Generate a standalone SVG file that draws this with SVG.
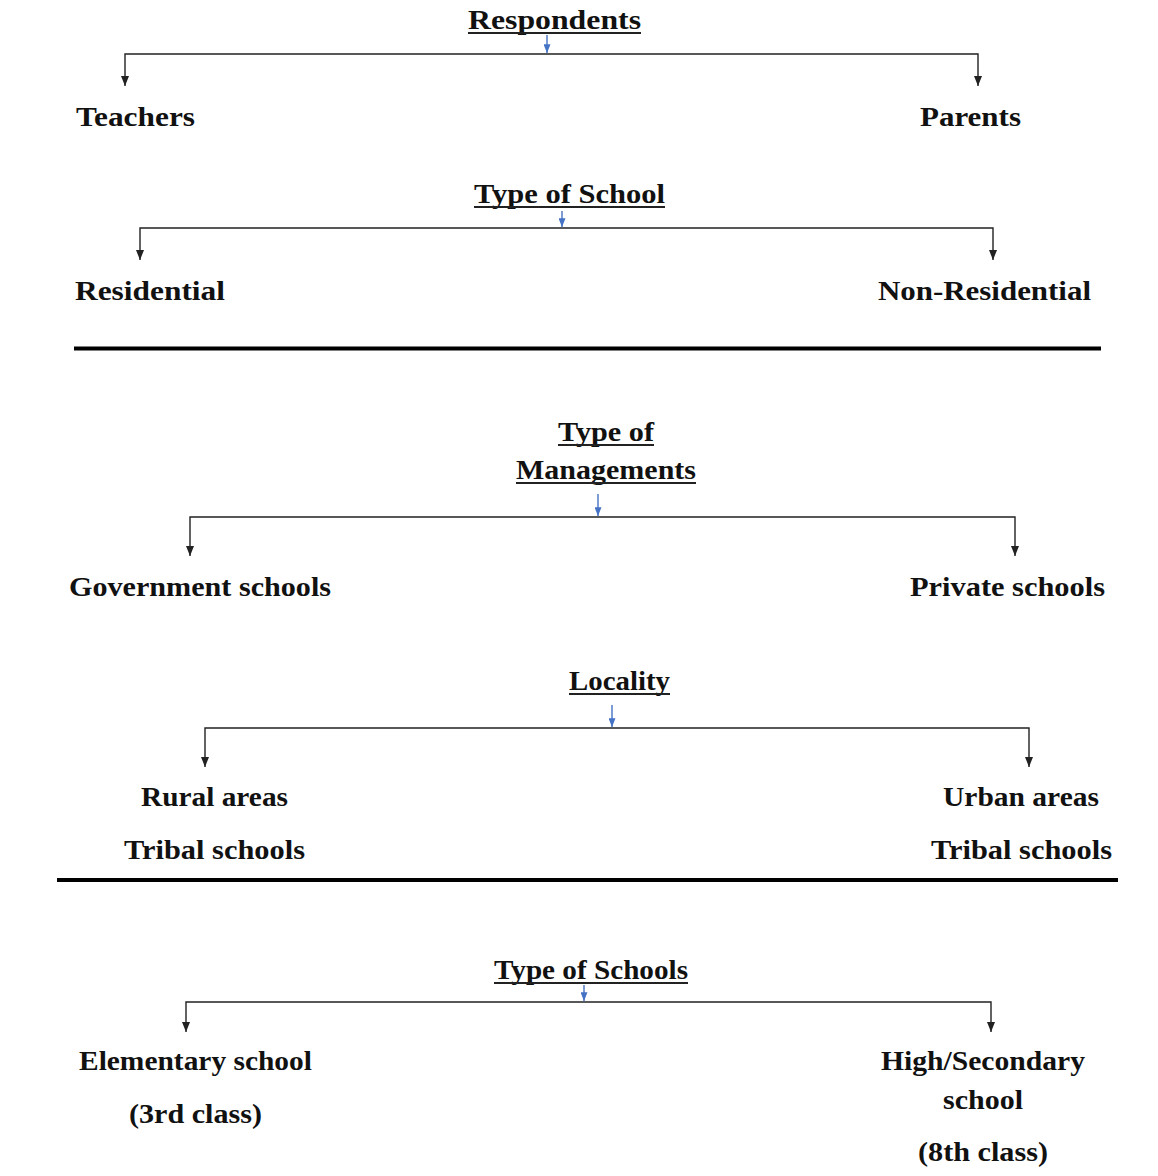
<svg xmlns="http://www.w3.org/2000/svg" width="1158" height="1176" viewBox="0 0 1158 1176">
<style>
text{font-family:"Liberation Serif","Times New Roman",serif;font-weight:bold;font-size:27px;fill:#111}
.ul{stroke:#222;stroke-width:2}
.con{fill:none;stroke:#222;stroke-width:1.4}
.blue{fill:none;stroke:#4472C4;stroke-width:1.4}
.rule{stroke:#000;stroke-width:4}
</style>
<defs>
<marker id="ak" viewBox="0 0 10 8" refX="10" refY="4" markerWidth="10" markerHeight="8" markerUnits="userSpaceOnUse" orient="auto">
<path d="M0,0 L10,4 L0,8 Z" fill="#222"/>
</marker>
<marker id="ab" viewBox="0 0 10 8" refX="10" refY="4" markerWidth="9" markerHeight="7" markerUnits="userSpaceOnUse" orient="auto">
<path d="M0,0 L10,4 L0,8 Z" fill="#4472C4"/>
</marker>
</defs>

<g id="connectors">
<path class="blue" d="M547,35 V53" marker-end="url(#ab)"/>
<path class="con" d="M547,54 H125 V86" marker-end="url(#ak)"/>
<path class="con" d="M547,54 H978 V86" marker-end="url(#ak)"/>

<path class="blue" d="M562,211 V227" marker-end="url(#ab)"/>
<path class="con" d="M562,228 H140 V260" marker-end="url(#ak)"/>
<path class="con" d="M562,228 H993 V260" marker-end="url(#ak)"/>

<path class="blue" d="M598,494 V516" marker-end="url(#ab)"/>
<path class="con" d="M598,517 H190 V556" marker-end="url(#ak)"/>
<path class="con" d="M598,517 H1015 V556" marker-end="url(#ak)"/>

<path class="blue" d="M612,705 V727" marker-end="url(#ab)"/>
<path class="con" d="M612,728 H205 V767" marker-end="url(#ak)"/>
<path class="con" d="M612,728 H1029 V767" marker-end="url(#ak)"/>

<path class="blue" d="M584,985 V1001" marker-end="url(#ab)"/>
<path class="con" d="M584,1002 H186 V1032" marker-end="url(#ak)"/>
<path class="con" d="M584,1002 H991 V1032" marker-end="url(#ak)"/>
</g>

<g id="rules">
<line class="rule" x1="74" y1="348.5" x2="1101" y2="348.5"/>
<line class="rule" x1="57" y1="880" x2="1118" y2="880"/>
</g>

<g id="respondents"><text x="468" y="29" textLength="173" lengthAdjust="spacingAndGlyphs">Respondents</text><line class="ul" x1="468" y1="33" x2="641" y2="33"/></g>
<g id="teachers"><text x="76" y="125.5" textLength="119" lengthAdjust="spacingAndGlyphs">Teachers</text></g>
<g id="parents"><text x="920" y="125.5" textLength="101" lengthAdjust="spacingAndGlyphs">Parents</text></g>

<g id="type-of-school"><text x="474" y="203" textLength="191" lengthAdjust="spacingAndGlyphs">Type of School</text><line class="ul" x1="474" y1="207" x2="665" y2="207"/></g>
<g id="residential"><text x="75" y="299.5" textLength="150" lengthAdjust="spacingAndGlyphs">Residential</text></g>
<g id="non-residential"><text x="878" y="299.5" textLength="213" lengthAdjust="spacingAndGlyphs">Non-Residential</text></g>

<g id="type-of-managements">
<text x="558" y="441" textLength="96" lengthAdjust="spacingAndGlyphs">Type of</text><line class="ul" x1="558" y1="445" x2="654" y2="445"/>
<text x="516" y="479" textLength="180" lengthAdjust="spacingAndGlyphs">Managements</text><line class="ul" x1="516" y1="483" x2="696" y2="483"/>
</g>
<g id="government-schools"><text x="69" y="595.5" textLength="262" lengthAdjust="spacingAndGlyphs">Government schools</text></g>
<g id="private-schools"><text x="910" y="595.5" textLength="195" lengthAdjust="spacingAndGlyphs">Private schools</text></g>

<g id="locality"><text x="569" y="690" textLength="101" lengthAdjust="spacingAndGlyphs">Locality</text><line class="ul" x1="569" y1="694" x2="670" y2="694"/></g>
<g id="rural"><text x="141" y="805.5" textLength="147" lengthAdjust="spacingAndGlyphs">Rural areas</text><text x="124" y="858.5" textLength="181" lengthAdjust="spacingAndGlyphs">Tribal schools</text></g>
<g id="urban"><text x="943" y="805.5" textLength="156" lengthAdjust="spacingAndGlyphs">Urban areas</text><text x="931" y="858.5" textLength="181" lengthAdjust="spacingAndGlyphs">Tribal schools</text></g>

<g id="type-of-schools"><text x="494" y="979" textLength="194" lengthAdjust="spacingAndGlyphs">Type of Schools</text><line class="ul" x1="494" y1="983" x2="688" y2="983"/></g>
<g id="elementary"><text x="79" y="1069.5" textLength="233" lengthAdjust="spacingAndGlyphs">Elementary school</text><text x="129" y="1122.5" textLength="133" lengthAdjust="spacingAndGlyphs">(3rd class)</text></g>
<g id="high-secondary"><text x="881" y="1069.5" textLength="204" lengthAdjust="spacingAndGlyphs">High/Secondary</text><text x="943" y="1108.5" textLength="80" lengthAdjust="spacingAndGlyphs">school</text><text x="918" y="1160.5" textLength="130" lengthAdjust="spacingAndGlyphs">(8th class)</text></g>
</svg>
